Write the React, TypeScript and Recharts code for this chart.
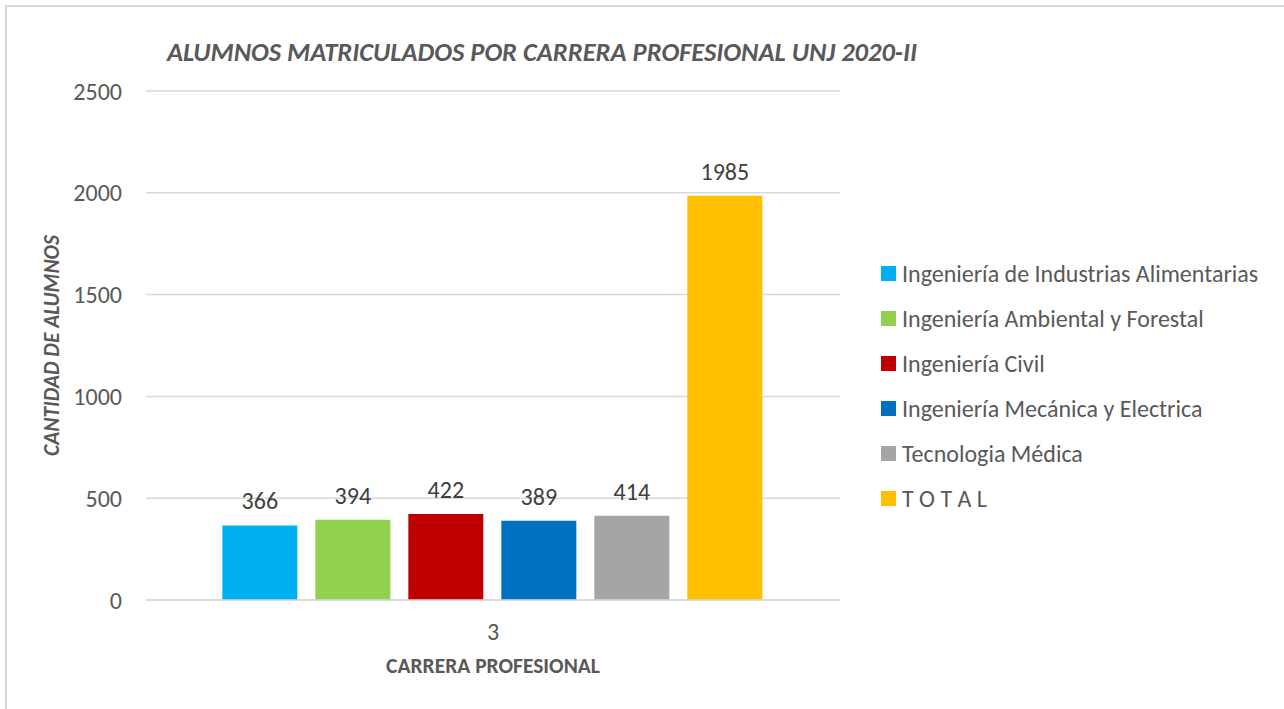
import React from 'react';
import { BarChart, Bar, XAxis, YAxis, CartesianGrid, LabelList } from 'recharts';

const categories = ['3'];
const seriesNames = [
  'Ingeniería de Industrias Alimentarias',
  'Ingeniería Ambiental y Forestal',
  'Ingeniería Civil',
  'Ingeniería Mecánica y Electrica',
  'Tecnologia Médica',
  'T O T A L',
];
const seriesValues = [366, 394, 422, 389, 414, 1985];
const seriesColors = ['#00B0F0', '#92D050', '#C00000', '#0070C0', '#A5A5A5', '#FFC000'];
const yTicks = [0, 500, 1000, 1500, 2000, 2500];
const chartTitle = 'ALUMNOS MATRICULADOS POR CARRERA PROFESIONAL UNJ 2020-II';
const yTitle = 'CANTIDAD DE ALUMNOS';
const xTitle = 'CARRERA PROFESIONAL';

const data = categories.map((c) => {
  const row: Record<string, string | number> = { cat: c };
  seriesNames.forEach((_, i) => {
    row['s' + i] = seriesValues[i];
  });
  return row;
});

const FONT = "Calibri, Carlito, sans-serif";
const TXT = '#595959';

const YLabel = (props: any) => {
  const vb = props.viewBox || {};
  const cx = 52;
  const cy = vb.y + vb.height / 2;
  return (
    <text
      x={cx}
      y={cy}
      transform={`rotate(-90 ${cx} ${cy})`}
      textAnchor="middle"
      dominantBaseline="central"
      fill={TXT}
      fontFamily={FONT}
      fontSize={21.5}
      fontWeight="bold"
      fontStyle="italic"
    >
      {yTitle}
    </text>
  );
};

const XLabel = (props: any) => {
  const vb = props.viewBox || {};
  const cx = vb.x + vb.width / 2;
  return (
    <text
      x={cx}
      y={666}
      textAnchor="middle"
      dominantBaseline="central"
      fill={TXT}
      fontFamily={FONT}
      fontSize={21.5}
      fontWeight="bold"
    >
      {xTitle}
    </text>
  );
};

export default function App() {
  return (
    <div style={{ position: 'fixed', left: 0, top: 0, width: 1284, height: 709, overflow: 'hidden', background: '#fff' }}>
      <div
        style={{
          position: 'absolute',
          left: 0,
          top: 36,
          width: 1084,
          textAlign: 'center',
          fontFamily: FONT,
          fontSize: 26.5,
          lineHeight: '32px',
          fontWeight: 'bold',
          fontStyle: 'italic',
          color: TXT,
          whiteSpace: 'nowrap',
        }}
      >
        {chartTitle}
      </div>
      <div style={{ position: 'absolute', left: 0, top: 0 }}>
        <BarChart
          width={1284}
          height={709}
          data={data}
          margin={{ top: 91, right: 444, bottom: 0, left: 0 }}
          barCategoryGap="11%"
          barGap={18}
        >
          <CartesianGrid vertical={false} stroke="#D9D9D9" strokeWidth={1.5} />
          <XAxis
            dataKey="cat"
            axisLine={{ stroke: '#D9D9D9', strokeWidth: 1.5 }}
            tickLine={false}
            tickSize={0}
            tickMargin={23}
            tick={{ fill: TXT, fontSize: 24, fontFamily: FONT }}
            height={109}
            label={<XLabel />}
          />
          <YAxis
            width={146}
            domain={[0, 2500]}
            ticks={yTicks}
            axisLine={false}
            tickLine={false}
            tickSize={0}
            tickMargin={24}
            tick={{ fill: TXT, fontSize: 24, fontFamily: FONT }}
            label={<YLabel />}
          />
          {seriesNames.map((n, i) => (
            <Bar key={n} dataKey={'s' + i} name={n} fill={seriesColors[i]} isAnimationActive={false}>
              <LabelList
                dataKey={'s' + i}
                position="top"
                offset={16}
                fill="#404040"
                fontSize={24}
                fontFamily={FONT}
              />
            </Bar>
          ))}
        </BarChart>
      </div>
      <div style={{ position: 'absolute', left: 881, top: 251, fontFamily: FONT, fontSize: 24, color: TXT }}>
        {seriesNames.map((n, i) => (
          <div key={n} style={{ display: 'flex', alignItems: 'center', height: 45, whiteSpace: 'nowrap' }}>
            <span style={{ display: 'inline-block', width: 15, height: 15, background: seriesColors[i], marginRight: 6, flexShrink: 0 }} />
            <span>{n}</span>
          </div>
        ))}
      </div>
      <div style={{ position: 'absolute', left: 5, top: 5, width: 2, height: 704, background: '#D9D9D9' }} />
      <div style={{ position: 'absolute', left: 5, top: 5, width: 1279, height: 2, background: '#D9D9D9' }} />
    </div>
  );
}
